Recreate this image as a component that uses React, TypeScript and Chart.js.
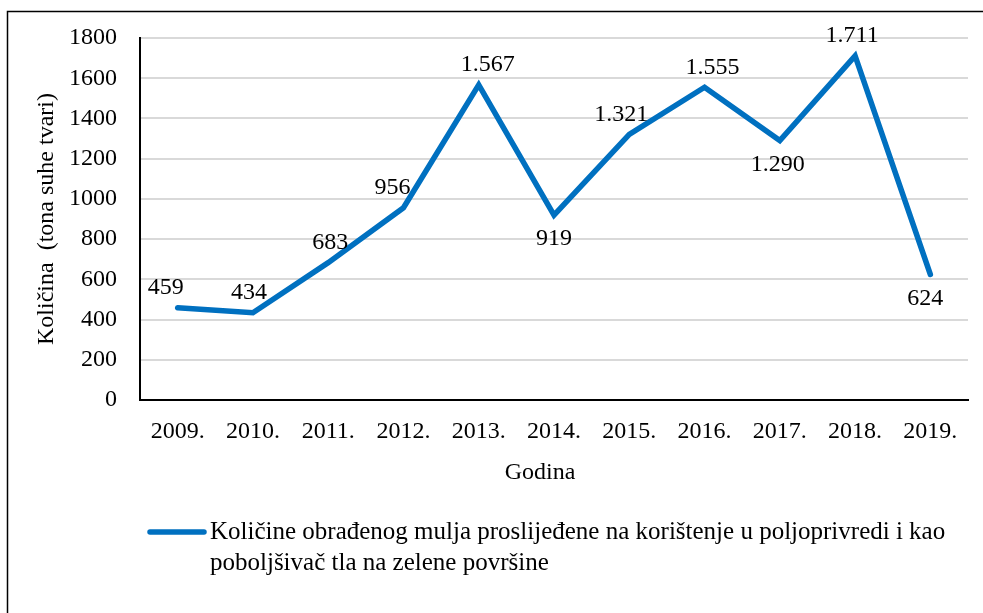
import React, { useEffect, useRef } from 'react';
import { Chart, registerables } from 'chart.js';

Chart.register(...registerables);

// ---- data ----
const years = ['2009.', '2010.', '2011.', '2012.', '2013.', '2014.', '2015.', '2016.', '2017.', '2018.', '2019.'];
const quantities = [459, 434, 683, 956, 1567, 919, 1321, 1555, 1290, 1711, 624];
const yMin = 0;
const yMax = 1800;
const yStep = 200;
const seriesName =
  'Količine obrađenog mulja proslijeđene na korištenje u poljoprivredi i kao poboljšivač tla na zelene površine';
const legendLines = [
  'Količine obrađenog mulja proslijeđene na korištenje u poljoprivredi i kao',
  'poboljšivač tla na zelene površine',
];
const yTitle = 'Količina  (tona suhe tvari)';
const xTitle = 'Godina';
const labelsBelowIdx = [5, 8, 10];

// ---- style ----
const FONT = "'Liberation Serif', 'Times New Roman', serif";
const FS = 24;
const LEGEND_FS = 25;
const BLUE = '#0070C0';
// small horizontal nudges of the data labels (style only)
const labelNudgeX = [-12, -4, 2, -11, 9, 0, -8, 8, -2, -3, -5];

const fmt = (v: number) => String(v).replace(/\B(?=(\d{3})+(?!\d))/g, '.');

const overlayPlugin = {
  id: 'overlay',
  afterDatasetsDraw(chart: any) {
    const ctx = chart.ctx as CanvasRenderingContext2D;
    const meta = chart.getDatasetMeta(0);
    const { top, bottom } = chart.chartArea;
    ctx.save();
    ctx.font = `${FS}px ${FONT}`;
    ctx.fillStyle = '#000';
    ctx.textAlign = 'center';
    ctx.textBaseline = 'middle';
    meta.data.forEach((pt: any, i: number) => {
      const below = labelsBelowIdx.includes(i);
      ctx.fillText(fmt(quantities[i]), pt.x + (labelNudgeX[i] || 0), pt.y + (below ? 24 : -20));
    });

    // axis titles
    ctx.fillText(xTitle, 540, 473);
    ctx.save();
    ctx.translate(47, (top + bottom) / 2);
    ctx.rotate(-Math.PI / 2);
    ctx.fillText(yTitle, 0, 0);
    ctx.restore();

    // legend
    ctx.strokeStyle = BLUE;
    ctx.lineWidth = 5.5;
    ctx.lineCap = 'round';
    ctx.beginPath();
    ctx.moveTo(150, 532);
    ctx.lineTo(204, 532);
    ctx.stroke();
    ctx.textAlign = 'left';
    ctx.font = `${LEGEND_FS}px ${FONT}`;
    legendLines.forEach((line, i) => {
      ctx.fillText(line, 210, 532 + i * 31);
    });

    // frame
    ctx.strokeStyle = '#000';
    ctx.lineWidth = 1.5;
    ctx.lineCap = 'butt';
    ctx.beginPath();
    ctx.moveTo(7.5, 613);
    ctx.lineTo(7.5, 11.5);
    ctx.lineTo(983, 11.5);
    ctx.stroke();
    ctx.restore();
  },
};

export default function App() {
  const canvasRef = useRef<HTMLCanvasElement | null>(null);

  useEffect(() => {
    if (!canvasRef.current) return;
    const chart = new Chart(canvasRef.current, {
      type: 'line',
      data: {
        labels: years,
        datasets: [
          {
            label: seriesName,
            data: quantities,
            borderColor: BLUE,
            backgroundColor: BLUE,
            borderWidth: 5.5,
            pointRadius: 0,
            pointHoverRadius: 0,
            tension: 0,
            borderCapStyle: 'round',
            borderJoinStyle: 'miter',
            fill: false,
          },
        ],
      },
      options: {
        responsive: false,
        animation: false,
        devicePixelRatio: 1,
        layout: { padding: { left: 0, top: 38, right: 15, bottom: 0 } },
        plugins: {
          legend: { display: false },
          tooltip: { enabled: false },
          title: { display: false },
        },
        scales: {
          x: {
            type: 'category',
            offset: true,
            grid: { display: false, drawTicks: false },
            border: { display: true, color: '#000', width: 2 },
            ticks: {
              color: '#000',
              font: { family: FONT, size: FS },
              padding: 17,
              maxRotation: 0,
              autoSkip: false,
            },
            afterFit: (s: any) => {
              s.height = 213;
            },
          },
          y: {
            min: yMin,
            max: yMax,
            ticks: {
              stepSize: yStep,
              color: '#000',
              font: { family: FONT, size: FS },
              padding: 23,
              callback: (v: any) => String(v),
            },
            grid: { color: '#d9d9d9', lineWidth: 2, drawTicks: false },
            border: { display: true, color: '#000', width: 2 },
            afterFit: (s: any) => {
              s.width = 140;
            },
          },
        },
      },
      plugins: [overlayPlugin],
    });
    return () => chart.destroy();
  }, []);

  return (
    <div style={{ position: 'absolute', left: 0, top: 0, width: 983, height: 613, background: '#fff' }}>
      <canvas ref={canvasRef} width={983} height={613} style={{ display: 'block' }} />
    </div>
  );
}
